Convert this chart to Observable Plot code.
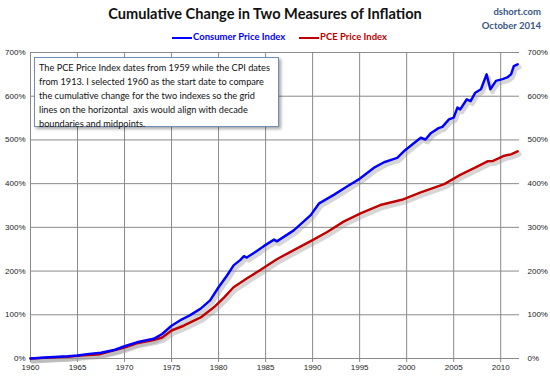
<!DOCTYPE html>
<html><head><meta charset="utf-8">
<script src="https://cdn.jsdelivr.net/npm/d3@7"></script>
<script src="https://cdn.jsdelivr.net/npm/@observablehq/plot@0.6"></script>
<style>
body{margin:0;background:#fff;}
#wrap{position:relative;width:550px;height:384px;overflow:hidden;font-family:Lato,"Open Sans",sans-serif;}
#title{position:absolute;left:0;width:530px;top:5px;text-align:center;font-weight:bold;font-size:14.6px;color:#111;}
#src{position:absolute;right:9px;top:5px;text-align:right;font-size:9.5px;font-weight:bold;color:#3a5686;line-height:13.5px;}
.leg{position:absolute;top:31px;font-size:9.5px;font-weight:bold;white-space:nowrap;}
.leg span{display:inline-block;width:20px;height:0;border-top:2.5px solid;vertical-align:middle;margin-right:1px;}
#note{position:absolute;left:34px;top:57px;width:245px;height:70px;border:1px solid #6f8fb8;background:#fff;box-shadow:2px 2px 3px rgba(0,0,0,0.35);font-size:9.2px;line-height:14px;color:#111;padding:3px 0 0 4px;box-sizing:border-box;white-space:nowrap;}
#chart{position:absolute;left:0;top:45px;}
</style></head><body>
<div id="wrap">
<div id="chart"></div>
<div id="title">Cumulative Change in Two Measures of Inflation</div>
<div id="src">dshort.com<br>October 2014</div>
<div class="leg" style="left:172px;color:#0000ff"><span style="border-color:#0000ff"></span>Consumer Price Index</div>
<div class="leg" style="left:299px;color:#c00000"><span style="border-color:#c00000"></span>PCE Price Index</div>
<div id="note">The PCE Price Index dates from 1959 while the CPI dates<br>from 1913. I selected 1960 as the start date to compare<br>the cumulative change for the two indexes so the grid<br>lines on the horizontal&nbsp; axis would align with decade<br>boundaries and midpoints.</div>
</div>
<script>
const cpiYears = [1960,1962,1964,1965,1966,1967.5,1969,1970,1971.3,1973.1,1974.0,1975.0,1975.9,1976.9,1978.1,1979.1,1980.0,1980.9,1981.6,1982.3,1982.7,1983.0,1983.8,1984.8,1985.9,1986.2,1988.0,1989.8,1990.7,1992.3,1993.7,1995.0,1996.5,1997.6,1999.0,1999.7,2000.8,2001.5,2002.0,2002.6,2003.4,2003.8,2004.5,2005.0,2005.4,2005.7,2006.4,2006.8,2007.3,2007.9,2008.5,2008.9,2009.5,2010.2,2010.7,2011.1,2011.4,2011.8];
const cpiValues = [0,3,5,7,10,13,20,28,37,45,56,75,87,98,114,133,163,190,213,225,234,231,242,257,272,268,293,328,355,375,394,411,436,449,459,474,493,505,501,516,527,530,547,551,574,570,593,589,608,616,650,616,635,639,643,650,669,673];
const pceYears = [1960,1962,1964,1965,1967.4,1970,1971.3,1973.1,1974.0,1975.0,1976.3,1978.1,1979.5,1980.6,1981.6,1983.0,1984.4,1986.2,1988.0,1990.0,1991.6,1993.3,1995.1,1997.2,1999.5,2001.5,2004.0,2005.7,2007.5,2008.6,2009.2,2010.4,2011.1,2011.8];
const pceValues = [0,2,4,6,10,25,35,42,48,64,75,94,117,140,163,183,202,227,248,271,290,313,332,351,363,380,399,420,439,451,452,464,467,474];
const yTicks = [0,100,200,300,400,500,600,700];
const xTicks = [1960,1965,1970,1975,1980,1985,1990,1995,2000,2005,2010];

const cpi = cpiYears.map((y,i)=>({year:y, v:cpiValues[i]}));
const pce = pceYears.map((y,i)=>({year:y, v:pceValues[i]}));

const chart = Plot.plot({
  width:550, height:339,
  marginLeft:30, marginRight:31, marginTop:7, marginBottom:26,
  style:{fontFamily:"'Liberation Sans',sans-serif", fontSize:"8px", color:"#333", background:"transparent"},
  x:{domain:[1960,2012], ticks:xTicks, tickFormat:d=>String(d), label:null, tickSize:4},
  y:{domain:[0,700], ticks:yTicks, tickFormat:d=>d+"%", label:null},
  marks:[
    Plot.gridX(xTicks,{stroke:"#8a8a8a", strokeOpacity:1, strokeWidth:1}),
    Plot.gridY(yTicks,{stroke:"#8a8a8a", strokeOpacity:1, strokeWidth:1}),
    Plot.axisX({ticks:xTicks, tickFormat:d=>String(d), tickSize:4, tickPadding:2, stroke:"#8a8a8a", fill:"#222"}),
    Plot.axisY({anchor:"left", ticks:yTicks, tickFormat:d=>d+"%", tickSize:0, tickPadding:5, fill:"#222"}),
    Plot.axisY({anchor:"right", ticks:yTicks, tickFormat:d=>d+"%", tickSize:0, tickPadding:8, fill:"#222"}),
    Plot.lineY(pce,{x:"year", y:"v", stroke:"#999", strokeOpacity:0.4, strokeWidth:4, dx:2, dy:3}),
    Plot.lineY(cpi,{x:"year", y:"v", stroke:"#999", strokeOpacity:0.4, strokeWidth:4, dx:2, dy:3}),
    Plot.lineY(pce,{x:"year", y:"v", stroke:"#c00000", strokeWidth:2.5}),
    Plot.lineY(cpi,{x:"year", y:"v", stroke:"#0000ff", strokeWidth:2.5})
  ]
});
document.getElementById("chart").appendChild(chart);
</script>
</body></html>
